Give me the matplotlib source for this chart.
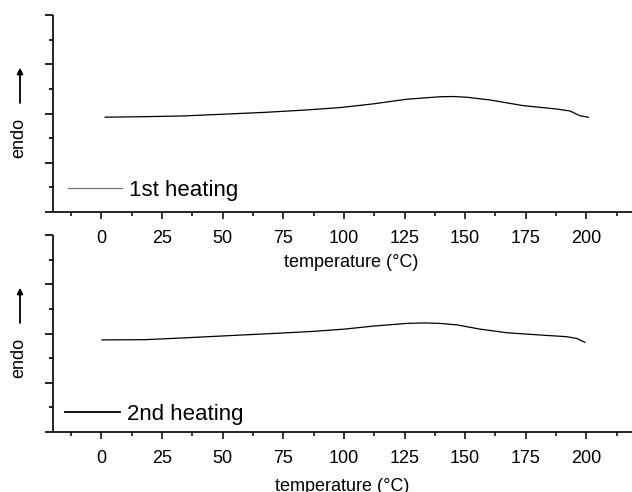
import numpy as np
import matplotlib.pyplot as plt
from matplotlib.lines import Line2D
from matplotlib.ticker import MultipleLocator

plt.rcParams['font.family'] = ['Liberation Sans', 'DejaVu Sans']

# DSC traces (heat flow, arbitrary units)
temp_1st = [1.5, 17, 33.6, 50, 68, 84, 98.3, 112, 126, 139.6, 145, 150.7, 160.2,
            173.9, 187.8, 193.3, 197.3, 200.8]
heat_1st = [3.85, 3.87, 3.90, 3.97, 4.05, 4.14, 4.24, 4.39, 4.58, 4.68, 4.69, 4.66, 4.55,
            4.32, 4.18, 4.10, 3.91, 3.85]

temp_2nd = [0.25, 17.9, 31.5, 52, 72.7, 88, 100.4, 112, 126, 133, 139.6, 146.6, 156,
            167.2, 180.8, 191.9, 196, 199.4]
heat_2nd = [3.74, 3.75, 3.81, 3.91, 4.01, 4.09, 4.18, 4.30, 4.41, 4.43, 4.41, 4.35, 4.18,
            4.03, 3.94, 3.87, 3.80, 3.64]

labels = ['1st heating', '2nd heating']
x_ticks = [0, 25, 50, 75, 100, 125, 150, 175, 200]

W, H = 632, 492
fig = plt.figure(figsize=(W / 100, H / 100), dpi=100)

def px_axes(left, top, right, bottom):
    return fig.add_axes([left / W, 1 - bottom / H, (right - left) / W, (bottom - top) / H])

ax1 = px_axes(53, 15, 647, 212)
ax2 = px_axes(53, 235, 647, 432)

series = [(ax1, temp_1st, heat_1st), (ax2, temp_2nd, heat_2nd)]
handles = [Line2D([], [], color='0.45', lw=0.9), Line2D([], [], color='black', lw=1.3)]
legend_anchor = [(0.010, 0.01), (0.006, -0.01)]
xlabel_pad = [5, 8]
xlabel_x = [0.502, 0.487]

for i, (ax, t, h) in enumerate(series):
    ax.patch.set_visible(False)
    ax.plot(t, h, color='black', lw=0.9)
    ax.set_xlim(-20, 225)
    ax.set_ylim(0, 8)
    ax.spines['top'].set_visible(False)
    ax.spines['right'].set_visible(False)
    for s in ('left', 'bottom'):
        ax.spines[s].set_linewidth(1.2)
        ax.spines[s].set_capstyle('butt')
    ax.set_xticks(x_ticks)
    ax.xaxis.set_minor_locator(MultipleLocator(12.5))
    ax.yaxis.set_major_locator(MultipleLocator(2))
    ax.yaxis.set_minor_locator(MultipleLocator(1))
    ax.tick_params(axis='x', which='major', direction='out', length=5, width=1.1,
                   labelsize=13, pad=8)
    ax.tick_params(axis='x', which='minor', direction='out', length=3, width=1.1)
    ax.tick_params(axis='y', which='major', direction='out', length=6, width=1.2,
                   labelleft=False)
    ax.tick_params(axis='y', which='minor', direction='out', length=3, width=1.2)
    ax.set_xlabel('temperature (°C)', fontsize=13, labelpad=xlabel_pad[i])
    ax.xaxis.label.set_x(xlabel_x[i])
    ax.legend([handles[i]], [labels[i]], loc='lower left', bbox_to_anchor=legend_anchor[i],
              frameon=False, fontsize=16, handlelength=2.45, handletextpad=0.3,
              borderaxespad=0.0)

# "endo" axis titles with upward arrow
for yc in (138, 358):
    fig.text(18.5 / W, 1 - yc / H, 'endo', rotation=90, fontsize=13,
             ha='center', va='center')
    fig.add_artist(plt.annotate('', xy=(20 / W, 1 - (yc - 70) / H),
                                xytext=(20 / W, 1 - (yc - 35) / H),
                                xycoords='figure fraction', textcoords='figure fraction',
                                arrowprops=dict(arrowstyle='-|>', color='black', lw=1.0,
                                                mutation_scale=9, shrinkA=0, shrinkB=0)))

fig.savefig('out.png', dpi=100)
